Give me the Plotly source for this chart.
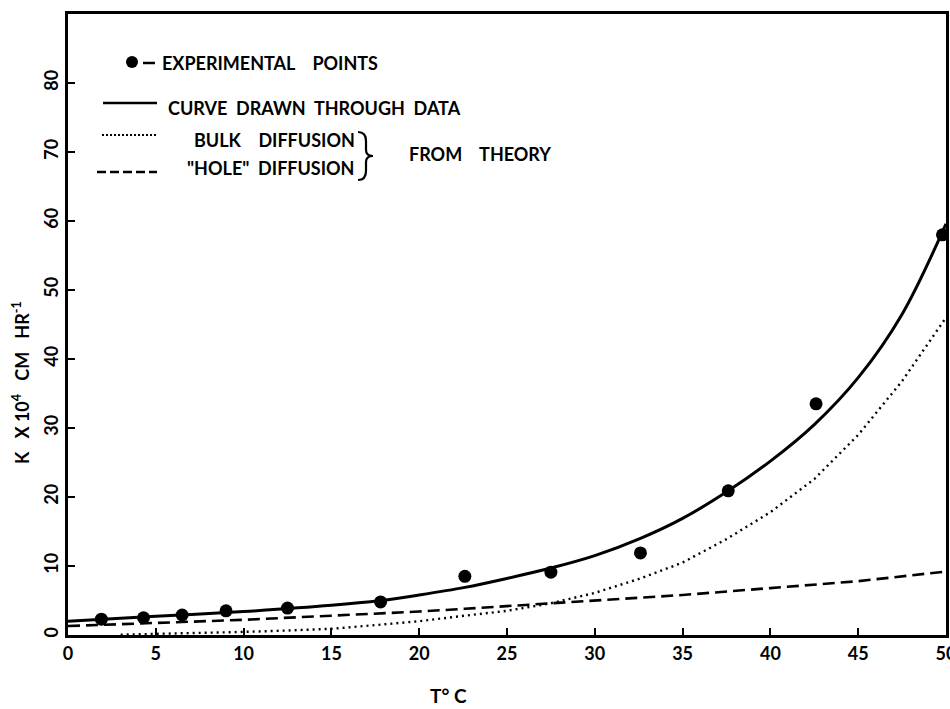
import plotly.graph_objects as go

# ---------------- data ----------------
exp_T = [1.9, 4.3, 6.5, 9.0, 12.5, 17.8, 22.6, 27.5, 32.6, 37.6, 42.6, 49.8]
exp_K = [2.3, 2.5, 2.9, 3.5, 3.9, 4.8, 8.5, 9.1, 11.9, 20.9, 33.5, 58.0]

curve_T = [0, 5, 10, 15, 17.8, 20, 22.6, 25, 27.5, 30, 32.6, 35, 37.6, 40, 42.5, 45, 47.5, 50]
curve_K = [2.0, 2.7, 3.4, 4.3, 5.0, 5.8, 6.9, 8.2, 9.7, 11.5, 14.0, 16.9, 20.9, 25.2, 30.5, 37.3, 46.5, 59.6]

bulk_T = [3, 5, 7, 10, 12.5, 15, 17.8, 20, 22.6, 25, 27.5, 30, 32.6, 35, 37.5, 40, 42.5, 45, 47.5, 50]
bulk_K = [0.05, 0.15, 0.25, 0.45, 0.65, 0.9, 1.5, 2.0, 2.8, 3.5, 4.6, 6.1, 8.2, 10.5, 13.9, 17.8, 22.6, 29.0, 36.8, 46.0]

hole_T = [0, 5, 10, 15, 17.8, 20, 22.6, 25, 27.5, 30, 32.6, 35, 40, 45, 50]
hole_K = [1.3, 1.7, 2.2, 2.8, 3.1, 3.4, 3.8, 4.2, 4.6, 5.0, 5.4, 5.8, 6.8, 7.8, 9.2]

x_ticks = [0, 5, 10, 15, 20, 25, 30, 35, 40, 45, 50]
y_ticks = [0, 10, 20, 30, 40, 50, 60, 70, 80]

# ---------------- layout geometry ----------------
W, H = 950, 709
L, R, T, B = 68, 4, 14, 74
PW, PH = W - L - R, H - T - B

def px(xpix):
    return (xpix - L) / PW

def py(ypix):
    return (H - B - ypix) / PH

FONT = "Lato"
INK = "black"

fig = go.Figure()

fig.add_trace(go.Scatter(x=hole_T, y=hole_K, mode="lines",
                         line=dict(color=INK, width=2.6, dash="12px,6px"),
                         showlegend=False, hoverinfo="skip"))
fig.add_trace(go.Scatter(x=bulk_T, y=bulk_K, mode="lines",
                         line=dict(color=INK, width=2.4, dash="2px,4px"),
                         showlegend=False, hoverinfo="skip"))
fig.add_trace(go.Scatter(x=curve_T, y=curve_K, mode="lines", line_shape="spline",
                         line=dict(color=INK, width=3),
                         showlegend=False, hoverinfo="skip"))
fig.add_trace(go.Scatter(x=exp_T, y=exp_K, mode="markers",
                         marker=dict(color=INK, size=13, line=dict(width=0)),
                         showlegend=False, cliponaxis=False))

shapes = []
annotations = []

# legend: experimental points
shapes.append(dict(type="circle", xref="paper", yref="paper",
                   x0=px(126), x1=px(138), y0=py(68), y1=py(56),
                   fillcolor=INK, line=dict(width=0)))
shapes.append(dict(type="line", xref="paper", yref="paper",
                   x0=px(143), x1=px(155), y0=py(63), y1=py(63),
                   line=dict(color=INK, width=2.5)))
# legend: solid line
shapes.append(dict(type="line", xref="paper", yref="paper",
                   x0=px(103), x1=px(157), y0=py(103), y1=py(103),
                   line=dict(color=INK, width=2.6)))
# legend: dotted line
shapes.append(dict(type="line", xref="paper", yref="paper",
                   x0=px(102), x1=px(157), y0=py(135), y1=py(135),
                   line=dict(color=INK, width=2, dash="2px,2px")))
# legend: dashed line
shapes.append(dict(type="line", xref="paper", yref="paper",
                   x0=px(97), x1=px(157), y0=py(172), y1=py(172),
                   line=dict(color=INK, width=2.5, dash="9px,4px")))

# brace
def P(a, b):
    return f"{px(a):.5f},{py(b):.5f}"

brace = (f"M {P(358,132)} Q {P(366,132)} {P(366,141)} L {P(366,150)} "
         f"Q {P(366,156)} {P(373,156)} Q {P(366,156)} {P(366,162)} "
         f"L {P(366,171)} Q {P(366,180)} {P(358,180)}")
shapes.append(dict(type="path", xref="paper", yref="paper", path=brace,
                   line=dict(color=INK, width=2.2)))

lf = dict(family=FONT, size=18, color=INK, weight="bold")

def txt(text, xpix, ypix, anchor="left", font=lf, **kw):
    annotations.append(dict(text=text, xref="paper", yref="paper",
                            x=px(xpix), y=py(ypix), xanchor=anchor, yanchor="middle",
                            showarrow=False, font=font, **kw))

txt("EXPERIMENTAL&nbsp;&nbsp;&nbsp; POINTS", 160, 63)
txt("CURVE&nbsp; DRAWN&nbsp; THROUGH&nbsp; DATA", 166, 108)
txt("BULK&nbsp;&nbsp;&nbsp; DIFFUSION", 357, 140, anchor="right")
txt("\"HOLE\"&nbsp; DIFFUSION", 357, 168, anchor="right")
txt("FROM&nbsp;&nbsp;&nbsp; THEORY", 407, 154)

# axis titles
txt("T° C", 448, 695, anchor="center", font=dict(family=FONT, size=19, color=INK, weight="bold"))
annotations.append(dict(text="K&nbsp;&nbsp; X 10<sup>4</sup>&nbsp;&nbsp; CM&nbsp;&nbsp; HR<sup>-1</sup>",
                        xref="paper", yref="paper", x=px(21), y=py(383),
                        xanchor="center", yanchor="middle", textangle=-90,
                        showarrow=False,
                        font=dict(family=FONT, size=18, color=INK, weight="bold")))

axis_common = dict(showgrid=False, zeroline=False, showline=True, linecolor=INK,
                   linewidth=3, mirror=True, ticks="inside", tickcolor=INK,
                   tickwidth=2, ticklen=7, ticklabeloverflow="allow", automargin=False,
                   tickfont=dict(family=FONT, size=18, color=INK, weight="bold"))

fig.update_layout(
    width=W, height=H,
    margin=dict(l=L, r=R, t=T, b=B, autoexpand=False),
    paper_bgcolor="white", plot_bgcolor="white",
    xaxis=dict(range=[0, 50], tickvals=x_ticks, ticktext=[str(v) for v in x_ticks], **axis_common),
    yaxis=dict(range=[0, 90], tickvals=y_ticks, ticktext=[str(v) for v in y_ticks],
               tickangle=-90, **axis_common),
    shapes=shapes,
    annotations=annotations,
    showlegend=False,
)

fig.write_html("out.html")
